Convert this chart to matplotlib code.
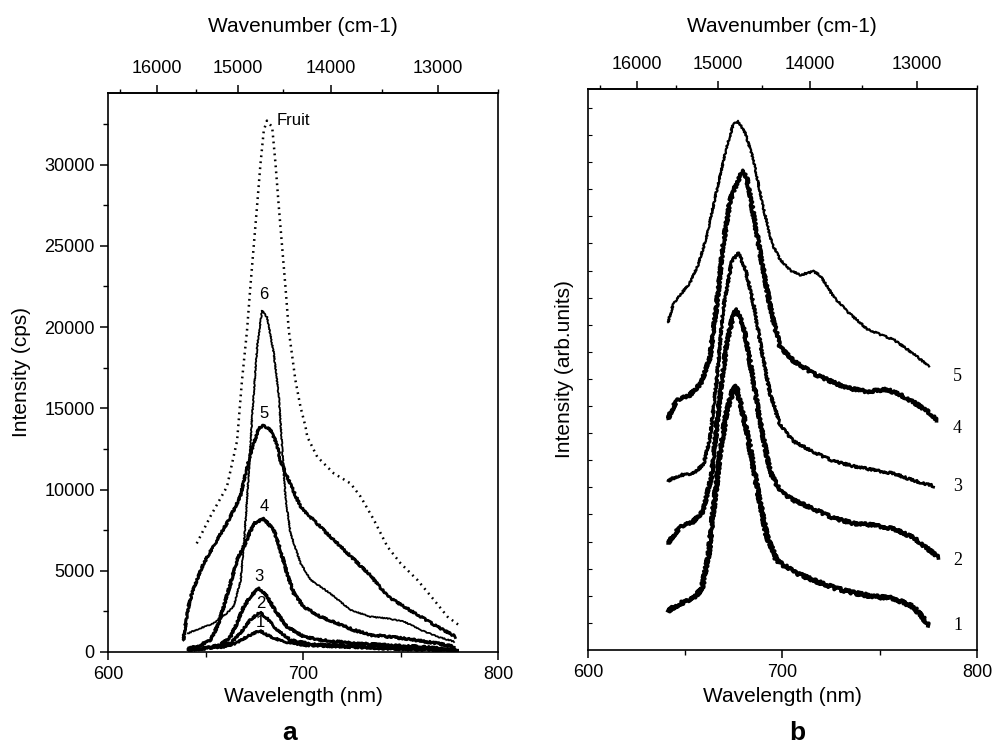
import numpy as np
import matplotlib
matplotlib.use("Agg")
import matplotlib.pyplot as plt
from matplotlib.ticker import FixedLocator, NullFormatter

# ---------------- Panel a data (wavelength nm, intensity cps) ----------------
wl_fruit = [645.5, 652.4, 661, 666.2, 668.7, 671.3, 673, 674.7, 676.4, 678.2, 679.9, 681.5,
            684.2, 685.9, 687.6, 689.3, 691, 692.7, 696.1, 698.7, 701.3, 702.2, 707.3, 715.8,
            724.4, 729.6, 736.4, 743.3, 750.1, 758.7, 767.2, 774.1, 781]
int_fruit = [6680, 8320, 10170, 13000, 16700, 19800, 22470, 24930, 27390, 30050, 32100, 32700,
             32300, 30050, 27390, 24930, 22470, 19800, 16730, 15090, 13860, 13240, 12010, 10990,
             10370, 9550, 8120, 6480, 5450, 4430, 3200, 2170, 1560]

wl_6 = [641, 647, 654, 661, 664.5, 668, 669.6, 672, 674, 676.5, 679, 681.6, 685, 687.6, 689.3,
        691, 693.6, 698.8, 704, 714, 724.5, 734.5, 743, 752, 760.5, 769, 777.5]
int_6 = [1150, 1450, 1750, 2400, 2800, 4400, 6500, 10600, 14700, 18800, 21000, 20600, 18400,
         15700, 12600, 9500, 7300, 5450, 4430, 3600, 2580, 2170, 2070, 1860, 1350, 940, 640]

wl_5 = [638.7, 639.5, 641.3, 643, 649, 656, 662.7, 667.9, 673, 677.3, 679.9, 683.3, 686.7,
        688.4, 691.8, 698.7, 703.8, 707.2, 714.1, 724.4, 734.6, 743.2, 751.8, 760.4, 768.9, 778.3]
int_5 = [750, 1500, 2800, 3600, 5450, 6900, 8300, 9600, 12200, 13750, 13950, 13650, 12800,
         11800, 10800, 8950, 8300, 7900, 7090, 5900, 4700, 3450, 2790, 2170, 1560, 940]

wl_4 = [641.3, 645.7, 652.6, 656, 659.4, 662.8, 666.2, 669.6, 674.7, 679.9, 685, 688.4, 691.8,
        695.3, 700.4, 709, 717.5, 726.1, 734.7, 751.8, 769, 777.5]
int_4 = [230, 330, 740, 1560, 2790, 4220, 5660, 6480, 7910, 8200, 7500, 6270, 4840, 3610, 2790,
         2170, 1760, 1350, 1050, 840, 530, 330]

wl_3 = [641.3, 649, 657.6, 662.8, 666.2, 669.6, 673, 677.3, 681.6, 686.7, 691.8, 700.4, 709,
        726.1, 743.3, 760.4, 779.2]
int_3 = [160, 230, 430, 940, 1760, 2790, 3400, 3950, 3400, 2380, 1560, 940, 740, 530, 430, 330, 120]

wl_2 = [641.3, 657.6, 663.6, 667.9, 673, 677.8, 682.4, 686.7, 693.6, 703.9, 726.1, 751.8, 779.2]
int_2 = [120, 330, 640, 1150, 1970, 2450, 1970, 1350, 740, 490, 370, 290, 120]

wl_1 = [641.3, 659.4, 666.2, 671.3, 677.8, 683.3, 690.1, 700.4, 726.1, 751.8, 779.2]
int_1 = [120, 330, 570, 940, 1310, 940, 640, 430, 290, 160, 80]

labels_a = ["6", "5", "4", "3", "2", "1"]
labels_a_x = [679.9, 679.9, 679.9, 677.3, 678.2, 678.2]
labels_a_y = [22000, 14700, 8980, 4630, 2990, 1800]

# ---------------- Panel b data (wavelength nm, arb. units, stacked) ----------------
wl_b5 = [641.2, 643.8, 647.3, 652.4, 656.7, 661.0, 666.2, 671.3, 674.7, 677.3, 680.8, 685.1,
         689.3, 694.5, 698.8, 704.0, 709.1, 716.0, 719.4, 726.3, 733.2, 743.5, 750.3, 757.2,
         767.5, 775.3]
arb_b5 = [12.1, 12.76, 13.09, 13.55, 14.21, 15.26, 16.97, 18.55, 19.41, 19.5, 19.08, 18.09,
          16.58, 15.0, 14.41, 14.01, 13.84, 13.97, 13.82, 13.03, 12.5, 11.84, 11.64, 11.45,
          10.92, 10.46]

wl_b4 = [641.2, 645.5, 652.4, 658.4, 662.7, 666.2, 669.6, 673.0, 676.5, 679.6, 681.6, 685.1,
         689.3, 694.5, 698.8, 705.7, 716.0, 726.3, 733.2, 743.5, 753.8, 760.7, 767.5, 774.4, 779.6]
arb_b4 = [8.55, 9.21, 9.41, 9.87, 10.79, 12.76, 15.0, 16.58, 17.24, 17.7, 17.43, 16.05, 14.34,
          12.37, 11.18, 10.66, 10.2, 9.87, 9.67, 9.54, 9.61, 9.41, 9.14, 8.82, 8.49]

wl_b3 = [641.2, 647.3, 654.1, 659.3, 662.7, 666.2, 669.6, 673.9, 677.3, 680.8, 685.1, 689.3,
         693.6, 698.8, 705.7, 716.0, 726.3, 736.6, 746.9, 757.2, 767.5, 777.8]
arb_b3 = [6.25, 6.45, 6.51, 6.84, 7.76, 10.0, 12.63, 14.34, 14.67, 14.08, 12.76, 11.05, 9.47,
          8.29, 7.7, 7.3, 6.97, 6.78, 6.64, 6.51, 6.25, 6.05]

wl_b2 = [641.2, 647.3, 654.1, 659.3, 663.6, 667.0, 671.3, 674.7, 676.5, 679.9, 684.2, 688.5,
         693.6, 698.8, 705.7, 716.0, 726.3, 736.6, 746.9, 757.2, 767.5, 774.4, 780.4]
arb_b2 = [3.95, 4.54, 4.74, 5.13, 6.45, 8.82, 11.32, 12.37, 12.57, 11.97, 10.26, 8.42, 6.58,
          5.86, 5.53, 5.2, 4.87, 4.67, 4.61, 4.47, 4.14, 3.75, 3.42]

wl_b1 = [641.2, 647.3, 654.1, 658.4, 661.9, 664.4, 667.9, 671.3, 674.7, 676.1, 679.0, 682.5,
         686.8, 691.9, 697.1, 705.7, 716.0, 726.3, 736.6, 746.9, 757.2, 767.5, 775.3]
arb_b1 = [1.45, 1.71, 1.91, 2.24, 3.42, 5.13, 7.24, 8.82, 9.61, 9.74, 8.95, 7.76, 6.05, 4.21,
          3.29, 2.89, 2.57, 2.3, 2.11, 1.97, 1.91, 1.58, 0.92]

labels_b = ["5", "4", "3", "2", "1"]
labels_b_y = [10.1, 8.16, 6.05, 3.29, 0.92]
label_b_x = 790

wn_major = [16000, 15000, 14000, 13000]
wn_minor = [16500, 15500, 14500, 13500, 12500]
x_major = [600, 700, 800]
x_minor = [650, 750]

# ---------------- Figure ----------------
plt.rcParams['font.family'] = ['Liberation Sans', 'DejaVu Sans']
W, H = 995, 744
fig = plt.figure(figsize=(W / 100, H / 100), dpi=100)

def fx(px):
    return px / W

def fy(py):
    return 1 - py / H

ax_a = fig.add_axes([fx(108), fy(652), fx(498) - fx(108), fy(93) - fy(652)])
ax_b = fig.add_axes([fx(588), fy(650), fx(977) - fx(588), fy(89) - fy(650)])


def inv(x):
    x = np.asarray(x, dtype=float)
    with np.errstate(divide='ignore', invalid='ignore'):
        return np.where(x == 0, np.inf, 1e7 / np.where(x == 0, 1, x))


TFS = 13

for ax in (ax_a, ax_b):
    ax.set_xlim(600, 800)
    for s in ax.spines.values():
        s.set_linewidth(1.2)
    ax.xaxis.set_major_locator(FixedLocator(x_major))
    ax.xaxis.set_minor_locator(FixedLocator(x_minor))
    ax.tick_params(axis='x', which='major', direction='out', length=6, width=1.1,
                   labelsize=TFS, pad=4)
    ax.tick_params(axis='x', which='minor', direction='out', length=3.5, width=1.0)
    sec = ax.secondary_xaxis('top', functions=(inv, inv))
    sec.xaxis.set_major_locator(FixedLocator(wn_major))
    sec.xaxis.set_minor_locator(FixedLocator(wn_minor))
    sec.xaxis.set_minor_formatter(NullFormatter())
    sec.tick_params(axis='x', which='major', direction='out', length=5.5, width=1.1,
                    labelsize=TFS, pad=6)
    sec.tick_params(axis='x', which='minor', direction='out', length=3, width=1.0)
    sec.spines['top'].set_linewidth(1.2)

# ---- panel a ----
ax_a.set_ylim(0, 34400)
ax_a.yaxis.set_major_locator(FixedLocator([0, 5000, 10000, 15000, 20000, 25000, 30000]))
ax_a.yaxis.set_minor_locator(FixedLocator([2500, 7500, 12500, 17500, 22500, 27500, 32500]))
ax_a.tick_params(axis='y', which='major', direction='out', length=6, width=1.1, labelsize=TFS)
ax_a.tick_params(axis='y', which='minor', direction='out', length=3.5, width=1.0)

ax_a.plot(wl_fruit, int_fruit, color='black', lw=1.8, linestyle=(0, (0.7, 1.7)))
ln6, = ax_a.plot(wl_6, int_6, color='black', lw=1.3)
ln6.set_sketch_params(scale=0.5, length=1.2, randomness=3)
noisy_a = [(wl_5, int_5, 2.0), (wl_4, int_4, 2.2), (wl_3, int_3, 2.2),
           (wl_2, int_2, 2.0), (wl_1, int_1, 2.0)]
for xs, ys, lw in noisy_a:
    ln, = ax_a.plot(xs, ys, color='black', lw=lw)
    ln.set_sketch_params(scale=0.9, length=1.2, randomness=3)

for t, x, y in zip(labels_a, labels_a_x, labels_a_y):
    ax_a.text(x, y, t, fontsize=12, ha='center', va='center')
ax_a.text(686.5, 32700, "Fruit", fontsize=12, ha='left', va='center')

# ---- panel b ----
ax_b.set_ylim(0, 20.7)
ax_b.yaxis.set_major_locator(FixedLocator(list(range(1, 21))))
ax_b.yaxis.set_major_formatter(NullFormatter())
ax_b.tick_params(axis='y', which='major', direction='in', length=3, width=0.8)

b_curves = [(wl_b5, arb_b5, 1.6, 0.8), (wl_b4, arb_b4, 2.6, 1.4), (wl_b3, arb_b3, 2.0, 1.1),
            (wl_b2, arb_b2, 2.6, 1.4), (wl_b1, arb_b1, 2.8, 1.6)]
for xs, ys, lw, sc in b_curves:
    ln, = ax_b.plot(xs, ys, color='black', lw=lw)
    ln.set_sketch_params(scale=sc, length=1.2, randomness=3)

for t, y in zip(labels_b, labels_b_y):
    ax_b.text(label_b_x, y, t, fontsize=13, ha='center', va='center',
              family=['Liberation Serif', 'DejaVu Serif'])

# ---- axis titles and panel letters ----
LFS = 15
fig.text(fx(303), fy(27), "Wavenumber (cm-1)", fontsize=LFS, ha='center', va='center')
fig.text(fx(782), fy(27), "Wavenumber (cm-1)", fontsize=LFS, ha='center', va='center')
fig.text(fx(303), fy(697), "Wavelength (nm)", fontsize=LFS, ha='center', va='center')
fig.text(fx(782), fy(697), "Wavelength (nm)", fontsize=LFS, ha='center', va='center')
fig.text(fx(22), fy(372), "Intensity (cps)", fontsize=LFS, ha='center', va='center',
         rotation=90)
fig.text(fx(565), fy(369), "Intensity (arb.units)", fontsize=LFS, ha='center', va='center',
         rotation=90)
fig.text(fx(290), fy(733), "a", fontsize=19, fontweight='bold', ha='center', va='center')
fig.text(fx(797), fy(733), "b", fontsize=19, fontweight='bold', ha='center', va='center')

fig.savefig("out.png", dpi=100)
